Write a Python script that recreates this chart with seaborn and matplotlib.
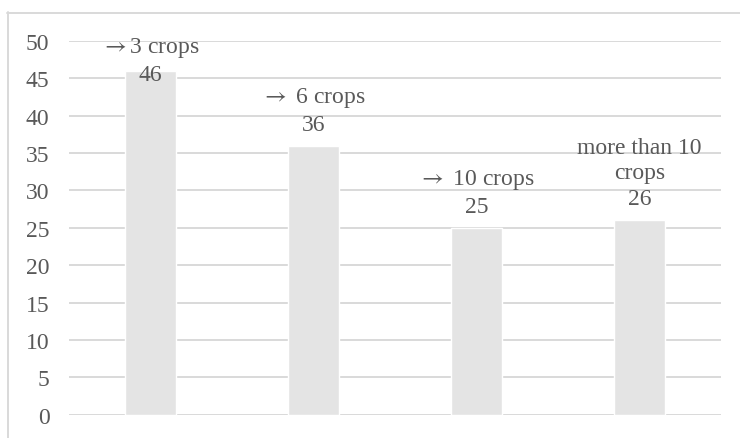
import matplotlib
matplotlib.use("Agg")
import matplotlib.pyplot as plt
from matplotlib.lines import Line2D
import seaborn as sns
import pandas as pd

# Chart data
categories = ["$\\rightarrow$3 crops", "$\\rightarrow$ 6 crops", "$\\rightarrow$ 10 crops",
              "more than 10\ncrops"]
values = [46, 36, 25, 26]
# vertical label offsets (points) relative to bar tops
label_offsets = [-10, 8, 8, 8]
y_ticks = list(range(0, 55, 5))

TEXT = "#595959"
GRID = "#d9d9d9"
BAR = "#e4e4e4"

sns.set_theme(style="white")
plt.rcParams["font.family"] = ["Liberation Serif", "DejaVu Serif"]
plt.rcParams["mathtext.fontset"] = "stix"

df = pd.DataFrame({"category": categories, "value": values})

W, H, DPI = 740, 439, 100
fig = plt.figure(figsize=(W / DPI, H / DPI), dpi=DPI)
ax = fig.add_axes([69 / W, 1 - 415.7 / H, (721 - 69) / W, (415.7 - 42) / H])

sns.barplot(data=df, x="category", y="value", color=BAR, width=0.31,
            saturation=1, ax=ax, zorder=2)

ax.set_ylim(0, 50)
ax.set_xlim(-0.5, len(categories) - 0.5)
ax.set_yticks(y_ticks)
ax.set_yticklabels([str(t) for t in y_ticks], fontsize=17, color=TEXT)
ax.set_xticks([])
ax.set_xlabel("")
ax.set_ylabel("")
ax.tick_params(axis="y", length=0, pad=14)
for t in y_ticks:
    ax.axhline(t, color=GRID, lw=1.4, zorder=1)
for s in ax.spines.values():
    s.set_visible(False)

for i, (cat, v, off) in enumerate(zip(categories, values, label_offsets)):
    ax.annotate(f"{cat}\n{v}", xy=(i, v), xytext=(0, off), textcoords="offset points",
                ha="center", va="bottom", fontsize=17, color=TEXT,
                linespacing=1.3, multialignment="center", zorder=3)

# chart frame
fig.add_artist(Line2D([7.5 / W, 7.5 / W], [1 - 13 / H, 0], transform=fig.transFigure,
                      color=GRID, lw=1.4))
fig.add_artist(Line2D([7 / W, 1], [1 - 13.5 / H, 1 - 13.5 / H], transform=fig.transFigure,
                      color=GRID, lw=1.4))

fig.savefig("out.png", dpi=DPI, facecolor="white")
